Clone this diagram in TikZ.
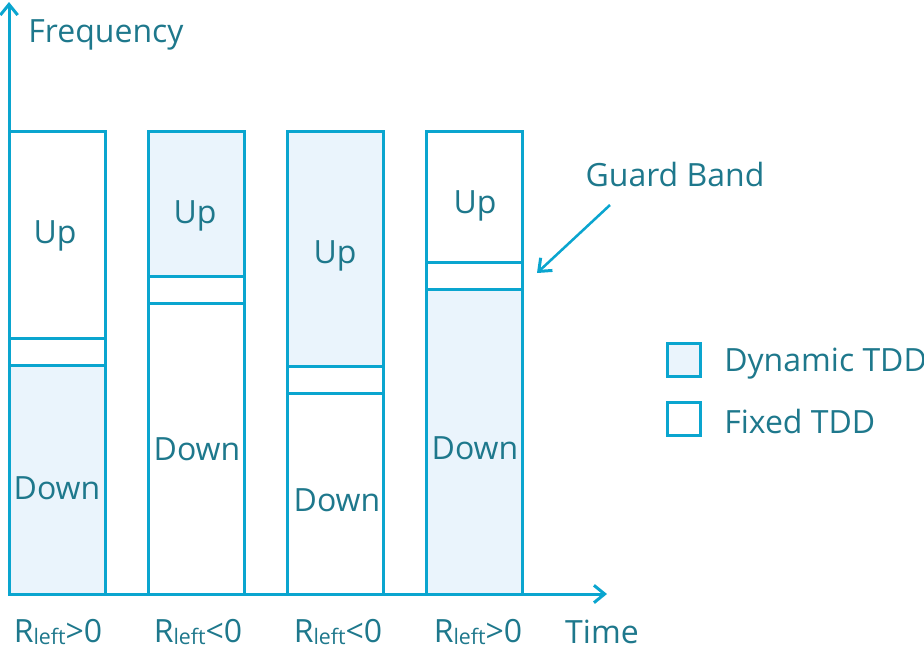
\documentclass[tikz,border=0pt]{standalone}
\usepackage{fontspec}
\setmainfont{Open Sans}
\usetikzlibrary{arrows.meta,positioning}
\definecolor{tddline}{RGB}{10,165,207}
\definecolor{tddtext}{RGB}{30,120,140}
\definecolor{tddfill}{RGB}{234,244,252}
\tikzset{
	bar/.style={draw=tddline,line width=2.25pt},
	lbl/.style={inner sep=0pt,text=tddtext,font=\fontsize{24}{28}\selectfont},
	axis/.style={draw=tddline,line width=2.25pt,-{Straight Barb[length=8pt,width=13pt,line width=2.25pt]}},
}
\newcommand{\rleft}[1]{R\raisebox{-0.15ex}{\fontsize{16}{16}\selectfont left}#1}
\begin{document}
\begin{tikzpicture}[x=0.75pt,y=-0.75pt]
\useasboundingbox (0,0) rectangle (924,644);
% bars: left x / guard top / up fill / down fill
\foreach \xl/\gt/\uf/\df [count=\i] in {9/338/white/tddfill,148/276/tddfill/white,287/366/tddfill/white,426/262/white/tddfill} {
	\fill[\uf] (\xl,131) rectangle (\xl+96,\gt);
	\fill[\df] (\xl,\gt+27) rectangle (\xl+96,594);
	\draw[bar] (\xl,131) rectangle (\xl+96,594);
	\draw[bar] (\xl,\gt) rectangle (\xl+96,\gt+27);
}
\draw[axis] (9,594) -- (9,2);
\draw[axis] (9,594) -- (607,594);
\node[lbl] (freq) at (106,35) {Frequency};
\node[lbl] (time) at (602,632) {Time};
\node[lbl] (up1) at (55,236) {Up};
\node[lbl] (down1) at (57,488) {Down};
\node[lbl] (up2) at (195,216) {Up};
\node[lbl] (down2) at (197,449) {Down};
\node[lbl] (up3) at (335,256) {Up};
\node[lbl] (down3) at (337,500) {Down};
\node[lbl] (up4) at (475,206) {Up};
\node[lbl] (down4) at (475,448) {Down};
\node[lbl] (r1) at (58,632) {\rleft{>0}};
\node[lbl] (r2) at (198,632) {\rleft{<0}};
\node[lbl] (r3) at (338,632) {\rleft{<0}};
\node[lbl] (r4) at (478,632) {\rleft{>0}};
% guard band
\node[lbl] (guard) at (675,174) {Guard Band};
\coordinate (guardtail) at (610,205);
\coordinate (guardtip) at (537,273);
\draw[axis,line width=1.9pt] (guardtail) -- (guardtip);
% legend
\node[bar,fill=tddfill,minimum size=25pt,inner sep=0pt] (dynbox) at (684,360) {};
\node[lbl,anchor=west] (dyn) at (724,364) {Dynamic TDD};
\node[bar,fill=white,minimum size=25pt,inner sep=0pt] (fixbox) at (684,419) {};
\node[lbl,anchor=west] (fix) at (724,421) {Fixed TDD};
\end{tikzpicture}
\end{document}
